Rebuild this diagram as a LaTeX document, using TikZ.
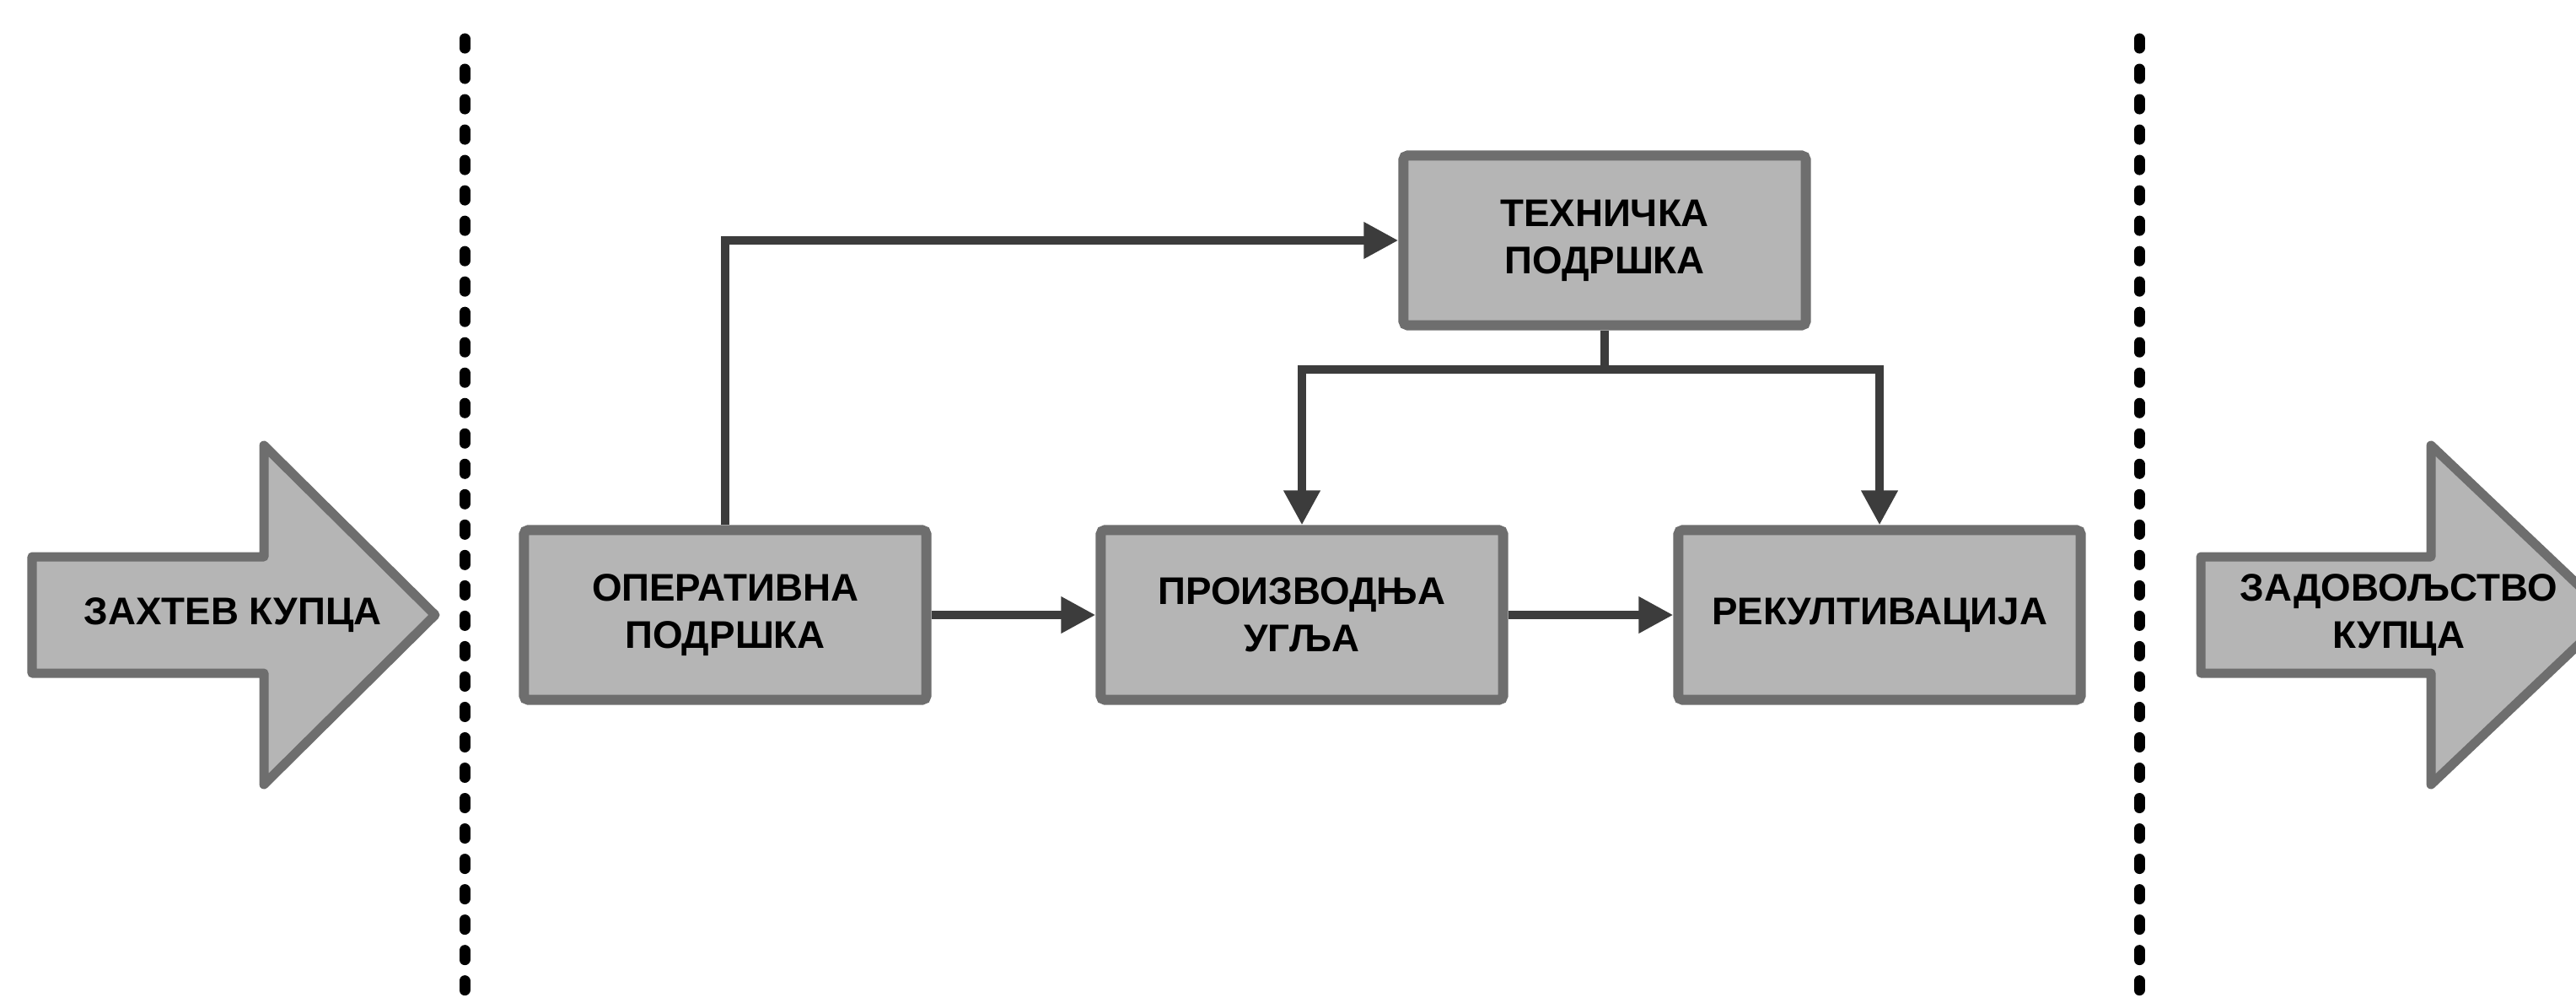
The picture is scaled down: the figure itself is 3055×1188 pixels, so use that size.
\documentclass[tikz,border=0pt]{standalone}
\usepackage{fontspec}
\setmainfont{Liberation Sans}
\usetikzlibrary{arrows.meta}
\definecolor{boxfill}{HTML}{B5B5B5}
\definecolor{boxline}{HTML}{6E6E6E}
\definecolor{wire}{HTML}{3C3C3C}

\begin{document}
\begin{tikzpicture}[x=0.01cm,y=-0.01cm,
  txt/.style={font=\fontsize{13}{16}\selectfont\bfseries},
  stage/.style={txt, draw=boxline, fill=boxfill, line width=0.12cm,
    rounded corners=0.05cm, minimum width=4.77cm, minimum height=2.01cm,
    align=center, inner sep=0pt},
  bigarrow/.style={draw=boxline, fill=boxfill, line width=0.11cm, line join=round},
  caption/.style={txt, align=center, inner sep=0pt},
  wireline/.style={draw=wire, line width=0.1cm},
  link/.style={wireline, -{Triangle[length=0.41cm,width=0.41cm]}},
  divider/.style={line width=0.13cm, line cap=round, dash pattern=on 0.11cm off 0.25cm}
]
\useasboundingbox (0,0) rectangle (3055,1188);
\clip (0,0) rectangle (3055,1188);

% dotted boundaries of the process area
\draw[divider] (551,46) -- (551,1230);
\draw[divider] (2537,46) -- (2537,1230);

% input and output block arrows
\path[bigarrow] (38,660) -- (313,660) -- (313,528) -- (516,729) -- (313,930)
  -- (313,798) -- (38,798) -- cycle;
\node[caption] (demand) at (276,729) {ЗАХТЕВ КУПЦА};

\path[bigarrow] (2610,660) -- (2883,660) -- (2883,528) -- (3095,729) -- (2883,930)
  -- (2883,798) -- (2610,798) -- cycle;
\node[caption] (satisfaction) at (2845,729) {ЗАДОВОЉСТВО\\КУПЦА};

% process stages
\node[stage] (op) at (860,729) {ОПЕРАТИВНА\\ПОДРШКА};
\node[stage] (pr) at (1544,729) {ПРОИЗВОДЊА\\УГЉА};
\node[stage] (re) at (2229,729) {РЕКУЛТИВАЦИЈА};
\node[stage] (te) at (1903,285) {ТЕХНИЧКА\\ПОДРШКА};

% connections
\draw[link] (op.east) -- (pr.west);
\draw[link] (pr.east) -- (re.west);
\draw[link] (op.north) |- (te.west);
\coordinate (split) at (1903,438);
\draw[wireline] (te.south) -- (split);
\draw[link] (split) -| (pr.north);
\draw[link] (split) -| (re.north);
\end{tikzpicture}
\end{document}
